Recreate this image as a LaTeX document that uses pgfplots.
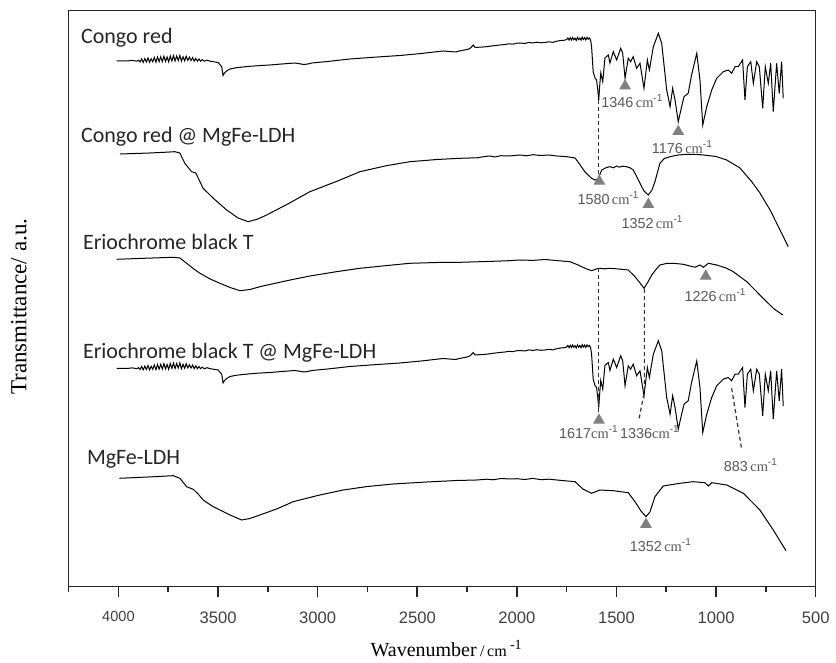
\documentclass[border=0pt]{standalone}
\usepackage{pgfplots}
\usepackage{pgfplotstable}
\pgfplotsset{compat=1.18}
\usepackage{fontspec}
\setmainfont{Carlito}
\newfontfamily\arialf{Liberation Sans}
\newfontfamily\timesf{Liberation Serif}
\newcommand{\wn}[1]{{\arialf #1}\,{\timesf cm}\textsuperscript{\arialf -1}}
\newcommand{\wnn}[1]{{\arialf #1}{\timesf cm}\textsuperscript{\arialf -1}}

\pgfplotstableread{
w y
4009 539
3990 539.2
3960 539
3930 539.6
3909 538.8
3900 539.8
3892 538
3884 541
3876 537.6
3868 541.4
3860 538
3852 542
3844 537.6
3836 541.2
3828 538.2
3820 542.6
3812 537.8
3804 543
3796 538.4
3788 543.2
3780 538.4
3772 543.8
3764 538.6
3756 543
3748 538.2
3740 544
3732 539
3724 544.4
3716 539
3708 544
3700 539.4
3692 544.6
3684 538.8
3676 543.2
3668 539.2
3660 543.8
3652 539.6
3644 542.8
3636 539.4
3628 542.4
3620 538.8
3612 541.6
3604 538.8
3596 541
3588 538.8
3580 540.4
3570 538.8
3555 539.8
3540 538.8
3524 538.3
3500 537.5
3482 533.3
3475 524.5
3468 527
3457 529
3440 531
3407 532.3
3350 533.5
3300 534.3
3240 535
3180 536
3114 537
3090 536.2
3069 535.5
3050 536
3029 537
2950 538.5
2838 541
2700 543
2587 544.5
2480 546.5
2370 549
2340 548.5
2306 548
2290 549
2276 549.5
2250 550.5
2236 551.5
2226 553.5
2219 555
2212 553
2205 552.5
2190 552.8
2170 553
2152 553.3
2120 554.2
2085 555
2060 555.5
2040 556.2
2020 555.8
2000 556.8
1985 557
1960 556.5
1940 557.6
1920 557
1900 557.8
1880 557.2
1859 557.5
1840 558.2
1820 557.6
1800 558.8
1780 559.5
1760 559.8
1750 560.5
1744 562
1738 559.8
1732 562.3
1726 560
1720 562.5
1714 560.2
1708 561.8
1702 559.5
1696 562.6
1690 560.4
1684 562
1678 559.8
1672 562.8
1666 560.5
1660 562.4
1654 560
1648 562.6
1642 560.8
1636 562
1630 560
1625 553.3
1617 528.3
1608 522
1600 520
1594 510
1589 500
1584 515
1579 527
1569 518.3
1558 542
1541 545
1533 537
1516 548.3
1499 540
1479 551.7
1469 547
1457 521.7
1441 541.7
1429 538.3
1416 543.3
1399 531.7
1382 536.7
1362 511.7
1345 540
1335 530
1315 553.3
1290 566.7
1273 556.7
1248 510
1231 493.3
1218 511.7
1206 500
1190 478.3
1173 493.3
1161 503.3
1140 506.7
1123 525
1097 546.7
1081 520
1067 475
1047 493.3
1022 510
997 521.7
964 528.3
939 530
922 526.7
905 533.3
889 533.3
867 540
855 500
843 533.3
826 538.3
813 516.7
796 538.3
783 533.3
766 491.7
753 533.3
738 516.7
726 536.7
713 488.3
696 536.7
683 506.7
671 538.3
663 501.7
}\congored

\pgfplotstableread{
w y
3993 446
3900 446.6
3842 447
3760 447.8
3717 448.3
3692 447
3667 436.7
3633 428.3
3612 427
3575 411.7
3520 401
3457 390
3400 382
3349 378.3
3300 381
3256 385
3150 396
3039 408.3
2900 419
2788 428.3
2650 434.5
2537 438.3
2400 440.5
2286 441.7
2200 442.2
2160 443.5
2135 444
2110 443
2080 444.3
2040 444
1985 445
1950 444.2
1920 445.3
1880 444.5
1840 445
1800 444
1750 443.3
1708 442
1693 438
1658 428
1625 421.7
1608 420
1593 421
1574 430
1550 432.5
1533 433.3
1515 432.2
1500 434
1485 432.8
1470 433.8
1449 433.3
1430 432
1416 430
1400 424
1382 416.7
1362 409
1340 405
1322 410
1307 418.3
1282 436.7
1260 441.5
1231 443.3
1190 445
1148 445.7
1100 445.6
1064 445
1000 443.5
947 440
880 432
820 418
780 407
729 390
679 370
638 353.3
}\congoredldh

\pgfplotstableread{
w y
4009 340.7
3900 341.5
3800 342.2
3725 342.7
3692 342
3658 336.7
3625 331.5
3591 326.7
3540 321
3491 316.7
3440 312.5
3390 309.3
3340 310.5
3290 313.3
3150 319.5
3039 324
2900 328.5
2788 331.7
2650 334.5
2537 336.7
2400 337.5
2286 337.7
2150 338.5
2050 339.2
1985 340
1920 339.6
1859 340.5
1800 339.4
1734 338.3
1692 335
1658 331.7
1625 329.3
1591 331.7
1560 331.2
1533 331.7
1490 331
1441 330
1407 323.3
1382 317
1362 311.7
1342 318
1323 325
1300 331
1282 335
1250 336.5
1215 336.7
1165 335.7
1106 332.7
1081 335
1064 332.7
1039 336.7
997 335
950 332
914 328.3
846 318.3
780 305
713 291.7
666 285
}\ebt

\pgfplotstableread{
w y
3996 121.7
3850 123
3725 124.3
3692 121.7
3658 113.3
3625 110.7
3600 106
3575 100
3530 94
3491 90
3440 85
3382 80
3340 81.5
3290 85
3200 91.5
3123 98.3
3000 104.5
2872 110
2750 113.5
2621 116
2453 118
2300 119.5
2202 120
2150 120.8
2120 120.2
2080 121.5
2035 121
2000 121.3
1960 120.5
1920 121.6
1880 120.3
1840 120.8
1784 119.7
1708 118.3
1667 110.7
1625 106.7
1583 110
1550 109.6
1516 109.3
1441 107.3
1407 98.3
1377 89
1352 83.3
1332 88
1307 103.3
1265 114
1181 116.7
1115 118.3
1056 117.3
1039 114
1022 117.3
947 115
863 106.7
780 90
713 70
649 49.3
}\mgfe

\begin{document}
\begin{tikzpicture}
\begin{axis}[
  scale only axis,
  width=373.5pt, height=288pt,
  xmin=500, xmax=4250,
  ymin=13.3, ymax=589.3,
  x dir=reverse,
  clip=false,
  axis line style={black!85, line width=0.8pt},
  ytick=\empty,
  xtick={500,1000,1500,2000,2500,3000,3500,4000},
  xticklabels={500,1000,1500,2000,2500,3000,3500,{\fontsize{7.3}{8}\selectfont 4000}},
  minor xtick={750,1250,1750,2250,2750,3250,3750,4250},
  xtick pos=left,
  tick align=outside,
  major tick length=5pt,
  minor tick length=2.5pt,
  tick style={black!85, line width=0.8pt},
  xticklabel style={font=\arialf\fontsize{8.3}{10}\selectfont, text=black!75, yshift=-4pt},
]
\addplot[black, line width=0.5pt] table[x=w, y=y] {\congored};
\addplot[black, line width=0.5pt] table[x=w, y=y] {\congoredldh};
\addplot[black, line width=0.5pt] table[x=w, y=y] {\ebt};
\addplot[black, line width=0.5pt] table[x=w, y expr=\thisrow{y}-307.5] {\congored};
\addplot[black, line width=0.5pt] table[x=w, y=y] {\mgfe};

% dashed guide lines
\addplot[black!80, line width=0.6pt, dash pattern=on 2pt off 1.5pt] coordinates {(1589,500) (1589,425)};
\addplot[black!80, line width=0.6pt, dash pattern=on 2pt off 1.5pt] coordinates {(1591,332) (1591,188)};
\addplot[black!80, line width=0.6pt, dash pattern=on 2pt off 1.5pt] coordinates {(1360,311) (1360,208.3) (1386,181.7)};
\addplot[black!80, line width=0.6pt, dash pattern=on 2pt off 1.5pt] coordinates {(922,211.7) (871,150)};

% triangles
\addplot[only marks, mark=triangle*, mark size=3pt, mark options={draw=black!50, fill=black!50}]
  coordinates {(1457,514) (1190,468.5) (1586,418.8) (1340,395.5) (1052,323.8) (1588,179.8) (1352,75.5)};

% peak labels
\begin{scope}[every node/.style={text=black!65, font=\fontsize{7.2}{8}\selectfont, inner sep=0pt}]
\node at (axis cs:1420,499) {\wn{1346}};
\node at (axis cs:1169,453.3) {\wn{1176}};
\node at (axis cs:1540,401.7) {\wn{1580}};
\node at (axis cs:1319,378.3) {\wn{1352}};
\node at (axis cs:1003,305) {\wn{1226}};
\node at (axis cs:1638,168.3) {\wnn{1617}};
\node at (axis cs:1332,168.3) {\wnn{1336}};
\node at (axis cs:825,135) {\wn{883}};
\node at (axis cs:1277,55) {\wn{1352}};
\end{scope}

% curve names
\begin{scope}[every node/.style={text=black!85, font=\fontsize{11}{13}\selectfont, anchor=base west, inner sep=0pt}]
\node at (axis cs:4190,556.7) {Congo red};
\node at (axis cs:4190,457.3) {Congo red @ MgFe-LDH};
\node at (axis cs:4180,350.7) {Eriochrome black T};
\node at (axis cs:4180,241.7) {Eriochrome black T @ MgFe-LDH};
\node at (axis cs:4160,135) {MgFe-LDH};
\end{scope}

% axis titles
\node[anchor=base, inner sep=0pt, font=\timesf\fontsize{10}{12}\selectfont] at (axis description cs:0.506,-0.122)
  {Wavenumber\,{\fontsize{8}{10}\selectfont/\,cm}\,\textsuperscript{-1}};
\node[rotate=90, inner sep=0pt, font=\timesf\fontsize{11.5}{13}\selectfont] at (axis description cs:-0.0665,0.486)
  {Transmittance/ a.u.};
\end{axis}
\pgfresetboundingbox
\path[use as bounding box] (-34.35pt,-38.15pt) rectangle (383.65pt,293.35pt);
\end{tikzpicture}
\end{document}
